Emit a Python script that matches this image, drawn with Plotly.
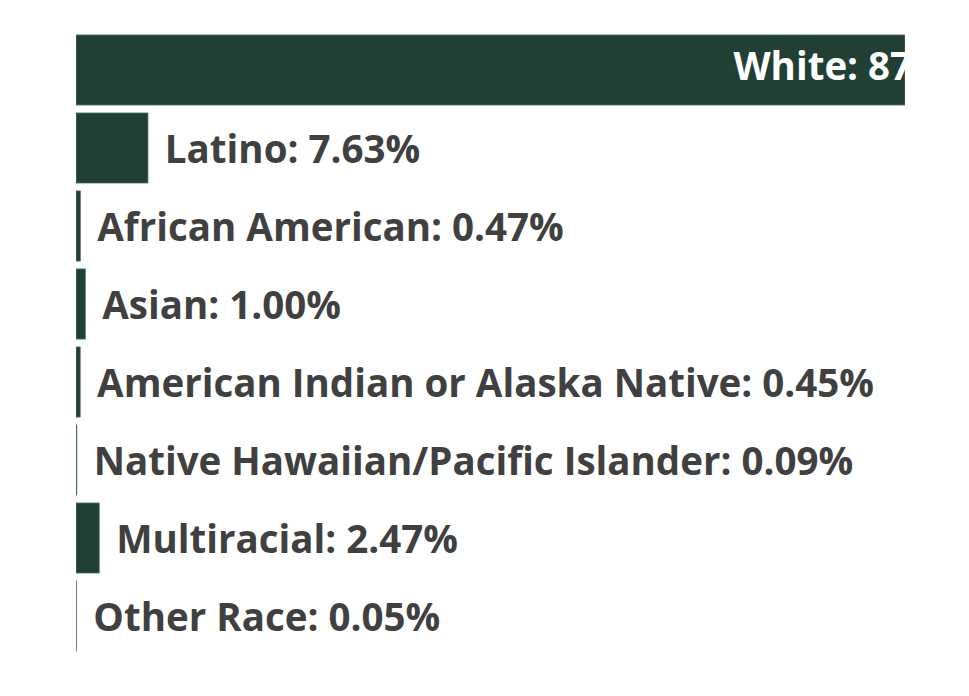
import plotly.graph_objects as go

categories = ["White", "Latino", "African American", "Asian",
              "American Indian or Alaska Native",
              "Native Hawaiian/Pacific Islander", "Multiracial", "Other Race"]
values = [87.84, 7.63, 0.47, 1.00, 0.45, 0.09, 2.47, 0.05]

BAR_COLOR = "#214034"
TEXT_COLOR = "#404040"
FONT = "Open Sans"
FONT_SIZE = 38.5

labels = [f"{c}: {v:.2f}%" for c, v in zip(categories, values)]
bar_text = ["" if i == 0 else " \u200a" + t for i, t in enumerate(labels)]

fig = go.Figure()
fig.add_trace(go.Bar(
    y=categories, x=values, orientation="h",
    marker=dict(color=BAR_COLOR, line=dict(color="#5d7a6e", width=0.75)),
    text=bar_text, textposition="outside", cliponaxis=False,
    textfont=dict(family=FONT, size=FONT_SIZE, color=TEXT_COLOR, weight="bold"),
    hoverinfo="skip",
))

# label for the largest bar, drawn inside and clipped by the plot area
x_max = max(values)
fig.add_trace(go.Scatter(
    y=[categories[0]], x=[x_max * 0.793], mode="text",
    text=[labels[0]], textposition="middle right", cliponaxis=True,
    textfont=dict(family=FONT, size=FONT_SIZE, color="white", weight="bold"),
    hoverinfo="skip", showlegend=False,
))

fig.update_layout(
    width=969, height=696,
    margin=dict(l=76, r=64, t=31, b=41),
    paper_bgcolor="white", plot_bgcolor="white",
    bargap=0.1, showlegend=False,
    xaxis=dict(range=[0, x_max], showgrid=False, zeroline=False,
               showticklabels=False, showline=False, fixedrange=True),
    yaxis=dict(autorange="reversed", showgrid=False, zeroline=False,
               showticklabels=False, showline=False, fixedrange=True),
)

fig.write_html("out.html")
